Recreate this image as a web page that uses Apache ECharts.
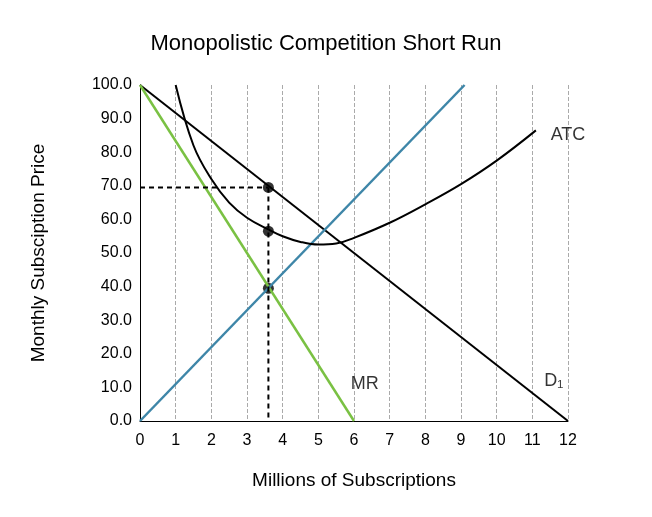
<!DOCTYPE html>
<html><head><meta charset="utf-8">
<script src="https://cdn.jsdelivr.net/npm/echarts@6/dist/echarts.min.js"></script>
<style>html,body{margin:0;background:#fff}#c{width:652px;height:517px}</style>
</head><body><div id="c"></div>
<script>
var demand = [[0, 100], [12, 0]];
var mr = [[0, 100], [6, 0]];
var mc = [[0, 0], [9.1, 100]];
var atc = [[1, 100], [1.5, 82], [2, 72], [2.5, 65], [3, 60.5], [3.6, 57], [4, 55], [4.5, 53.3], [5, 52.5],
  [5.5, 52.8], [6, 54.5], [7, 59], [8, 64.5], [9, 70.5], [10, 77.5], [11.1, 86.5]];
var qStar = 3.6, pStar = 69.5;
var points = [[3.6, 69.5], [3.6, 56.5], [3.6, 39.5]];
var curveLabels = [['D₁', 11.6, 12], ['MR', 6.3, 11], ['MC', 10, 102], ['ATC', 12, 85]];

var font = 'Helvetica, "Liberation Sans", Arial, sans-serif';
var chart = echarts.init(document.getElementById('c'));
chart.setOption({
  animation: false,
  textStyle: {fontFamily: font},
  title: {text: 'Monopolistic Competition Short Run', left: 'center', top: 28,
    textStyle: {fontSize: 22, fontWeight: 'normal', color: '#000', fontFamily: font}},
  grid: {left: 140, right: 84, top: 85, bottom: 96},
  xAxis: {type: 'value', min: 0, max: 12, interval: 1,
    name: 'Millions of Subscriptions', nameLocation: 'middle', nameGap: 50,
    nameTextStyle: {fontSize: 19, color: '#000'},
    axisLine: {lineStyle: {color: '#000'}}, axisTick: {show: false},
    axisLabel: {color: '#000', fontSize: 16, margin: 12},
    splitLine: {show: true, lineStyle: {type: 'dashed', color: '#aaa'}}},
  yAxis: {type: 'value', min: 0, max: 100, interval: 10,
    name: 'Monthly Subsciption Price', nameLocation: 'middle', nameGap: 92,
    nameTextStyle: {fontSize: 19, color: '#000'},
    axisLine: {show: true, lineStyle: {color: '#000'}}, axisTick: {show: false},
    axisLabel: {color: '#000', fontSize: 16, formatter: function (v) { return v.toFixed(1); }},
    splitLine: {show: false}},
  series: [
    {type: 'line', data: demand, symbol: 'none', lineStyle: {color: '#000', width: 2}},
    {type: 'line', data: mr, symbol: 'none', lineStyle: {color: '#7ac143', width: 2.5}},
    {type: 'line', data: mc, symbol: 'none', lineStyle: {color: '#3e86a8', width: 2.5}},
    {type: 'line', data: atc, smooth: 0.4, symbol: 'none', lineStyle: {color: '#000', width: 2}},
    {type: 'line', data: [[0, pStar], [qStar, pStar]], symbol: 'none',
      lineStyle: {color: '#000', width: 2, type: [5, 4]}},
    {type: 'line', data: [[qStar, pStar], [qStar, 0]], symbol: 'none',
      lineStyle: {color: '#000', width: 2, type: [5, 4]}},
    {type: 'scatter', data: points, symbolSize: 11, itemStyle: {color: '#000'}},
    {type: 'scatter', symbolSize: 1, itemStyle: {color: 'rgba(0,0,0,0)'},
      data: curveLabels.map(function (d) { return {name: d[0], value: [d[1], d[2]]}; }),
      label: {show: true, position: 'inside', fontSize: 18, color: '#000', formatter: '{b}'}}
  ]
});
</script></body></html>
